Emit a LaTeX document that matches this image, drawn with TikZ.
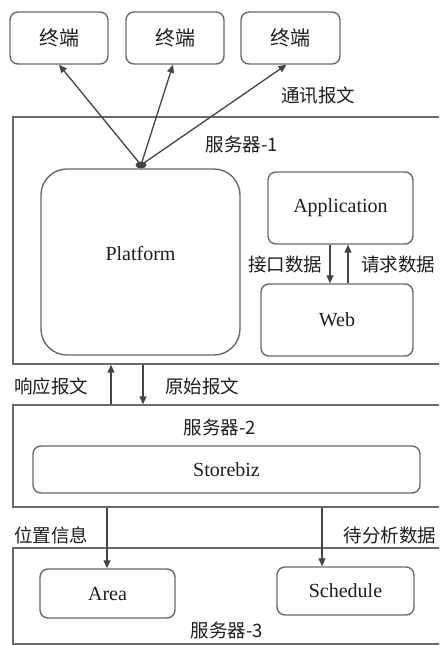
\documentclass[tikz,border=0pt]{standalone}
\usepackage{fontspec}
\setmainfont{Liberation Serif}
\newfontfamily\cjk{Noto Sans CJK SC}
\usetikzlibrary{arrows.meta}
\definecolor{boxline}{HTML}{6A6A6A}
\definecolor{arrline}{HTML}{444444}
\definecolor{txt}{HTML}{1E1E1E}
\tikzset{
  rbox/.style={draw=boxline, line width=1.4pt, rounded corners=8pt, inner sep=0pt, text=txt, font=\fontsize{20}{24}\selectfont},
  bigbox/.style={draw=boxline, line width=1.4pt, rounded corners=26pt, inner sep=0pt, text=txt, font=\fontsize{20}{24}\selectfont},
  srv/.style={draw=boxline, line width=1.4pt, inner sep=0pt},
  lbl/.style={text=txt, inner sep=0pt, font=\cjk\fontsize{18.5}{22}\selectfont},
  arr/.style={draw=arrline, line width=1.3pt, -{Triangle[length=8pt,width=7pt]}},
}
\begin{document}
\begin{tikzpicture}[x=1pt,y=-1pt]
\useasboundingbox (0,0) rectangle (439,645);
\clip (0,0) rectangle (439,645);
% terminals
\node[rbox, minimum width=98pt, minimum height=52pt] (t1) at (59,38) {\cjk 终端};
\node[rbox, minimum width=98pt, minimum height=52pt] (t2) at (175,38) {\cjk 终端};
\node[rbox, minimum width=99pt, minimum height=52pt] (t3) at (290.5,38) {\cjk 终端};
\node[lbl] (l0) at (318,96) {通讯报文};
% server 1
\node[srv, minimum width=430pt, minimum height=247pt] (s1) at (228,240.5) {};
\node[lbl] (s1l) at (242,144) {服务器-1};
\node[bigbox, minimum width=199pt, minimum height=186pt] (pf) at (140.5,262) {\raisebox{18pt}{Platform}};
\node[rbox, minimum width=145pt, minimum height=72pt] (app) at (340.5,208) {Application};
\node[rbox, minimum width=152pt, minimum height=72pt] (web) at (337,320) {Web};
\coordinate (d1) at (330,0);
\coordinate (u1) at (348,0);
\draw[arr] (app.south -| d1) -- (web.north -| d1);
\draw[arr] (web.north -| u1) -- (app.south -| u1);
\node[lbl] (l1) at (285,264) {接口数据};
\node[lbl] (l2) at (398,264) {请求数据};
% junction
\coordinate (j) at (141,165);
\draw[arr] (j) -- (t1.south);
\draw[arr] (j) -- ([xshift=-2pt]t2.south);
\draw[arr] (j) -- ([xshift=-4pt]t3.south);
\fill[arrline] (j) ellipse (5.5pt and 3.5pt);
% server 2
\node[srv, minimum width=430pt, minimum height=102pt] (s2) at (228,456) {};
\node[lbl] (s2l) at (220,427) {服务器-2};
\node[rbox, minimum width=387pt, minimum height=47pt] (sb) at (226.5,469.5) {Storebiz};
\coordinate (x1) at (111,0);
\coordinate (x2) at (143,0);
\draw[arr] (s2.north -| x1) -- (s1.south -| x1);
\draw[arr] (s1.south -| x2) -- (s2.north -| x2);
\node[lbl] (l3) at (51,386) {响应报文};
\node[lbl] (l4) at (202,386) {原始报文};
% server 3
\node[srv, minimum width=430pt, minimum height=96pt] (s3) at (228,596) {};
\node[rbox, minimum width=135pt, minimum height=49pt] (area) at (107.5,593.5) {Area};
\node[rbox, minimum width=137pt, minimum height=48pt] (sch) at (345.5,591) {Schedule};
\node[lbl] (s3l) at (227,630) {服务器-3};
\coordinate (x3) at (107,0);
\coordinate (x4) at (322,0);
\draw[arr] (s2.south -| x3) -- (area.north -| x3);
\draw[arr] (s2.south -| x4) -- (sch.north -| x4);
\node[lbl] (l5) at (51,535) {位置信息};
\node[lbl] (l6) at (390,535) {待分析数据};
\end{tikzpicture}
\end{document}
